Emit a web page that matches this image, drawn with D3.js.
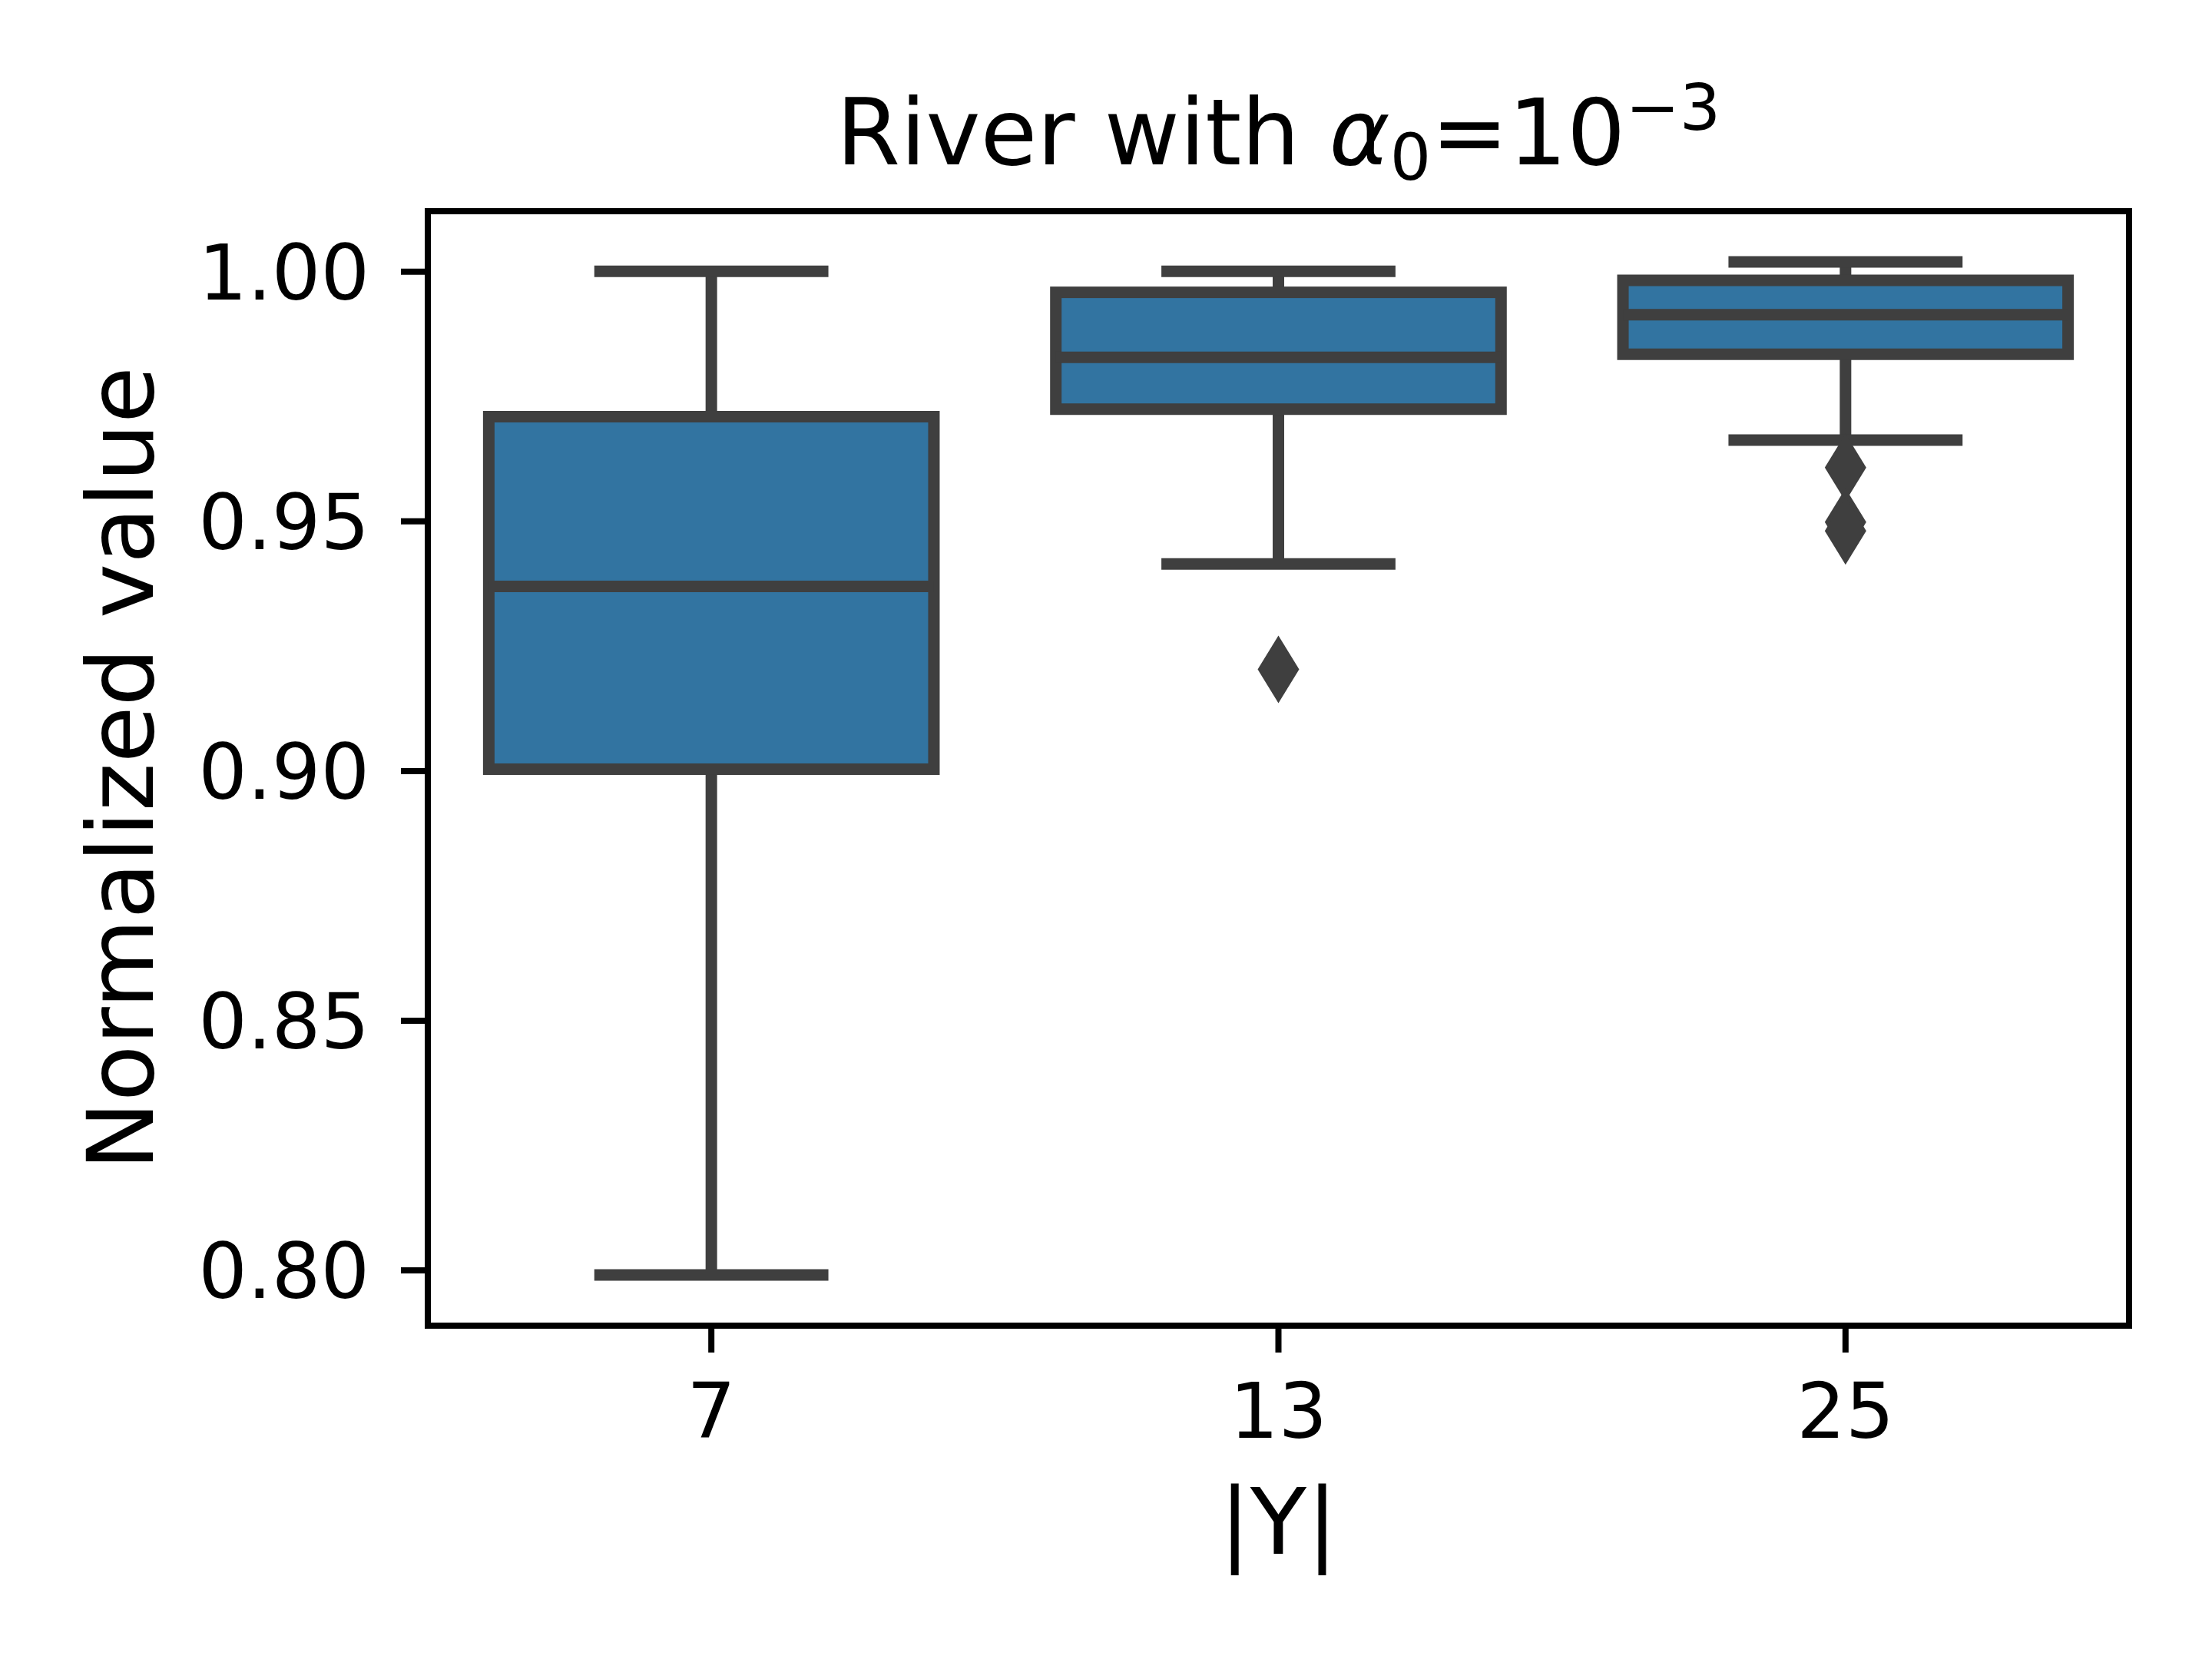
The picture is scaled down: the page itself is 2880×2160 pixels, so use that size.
<!DOCTYPE html>
<html>
<head>
<meta charset="utf-8">
<script src="https://cdn.jsdelivr.net/npm/d3@7"></script>
<style>
  body { margin: 0; background: #fff; }
  text { font-family: "DejaVu Sans", sans-serif; fill: #000; }
</style>
</head>
<body>
<div id="app"></div>
<script>
// box statistics
const categories = ['7', '13', '25']
const whiskerLow = [0.7990, 0.9414, 0.9662]
const q1 = [0.9003, 0.9724, 0.9834]
const median = [0.9369, 0.9828, 0.9913]
const q3 = [0.9709, 0.9958, 0.9982]
const whiskerHigh = [1.0000, 1.0000, 1.0019]
const outliers = [[], [0.9203], [0.9607, 0.9498, 0.9480]]
const yTicks = [0.80, 0.85, 0.90, 0.95, 1.00]

let data = categories.map((c, i) => {
  return {
    cat: c,
    lo: whiskerLow[i],
    q1: q1[i],
    med: median[i],
    q3: q3[i],
    hi: whiskerHigh[i],
    fliers: outliers[i]
  }
})

var width = 2880,
  height = 2160,
  margin = { top: 275, right: 108, bottom: 434, left: 557 },
  plotW = width - margin.left - margin.right,
  plotH = height - margin.top - margin.bottom

var boxFill = '#3274a1',
  lineColor = '#3f3f3f',
  lw = 15

// y domain like matplotlib: data range + 5% margins
var allVals = data.flatMap(d => [d.lo, d.hi].concat(d.fliers))
var yMin = d3.min(allVals), yMax = d3.max(allVals), pad = (yMax - yMin) * 0.05

var x = d3.scaleBand()
  .domain(categories)
  .range([0, plotW])
  .padding(0)

var y = d3.scaleLinear()
  .domain([yMin - pad, yMax + pad])
  .range([plotH, 0])

var svg = d3.select('#app')
  .append('svg')
  .attr('width', width)
  .attr('height', height)

svg.append('rect')
  .attr('width', width)
  .attr('height', height)
  .attr('fill', '#fff')

var g = svg.append('g')
  .attr('transform', 'translate(' + margin.left + ',' + margin.top + ')')

var boxW = x.bandwidth() * 0.785
var capW = boxW / 2

var box = g.selectAll('.box')
  .data(data)
  .enter()
  .append('g')
  .attr('class', 'box')
  .attr('transform', d => 'translate(' + (x(d.cat) + x.bandwidth() / 2) + ',0)')

// whiskers
box.append('line')
  .attr('x1', 0).attr('x2', 0)
  .attr('y1', d => y(d.q3)).attr('y2', d => y(d.hi))
  .attr('stroke', lineColor).attr('stroke-width', lw)
box.append('line')
  .attr('x1', 0).attr('x2', 0)
  .attr('y1', d => y(d.q1)).attr('y2', d => y(d.lo))
  .attr('stroke', lineColor).attr('stroke-width', lw)

// caps
box.append('line')
  .attr('x1', -capW / 2).attr('x2', capW / 2)
  .attr('y1', d => y(d.hi)).attr('y2', d => y(d.hi))
  .attr('stroke', lineColor).attr('stroke-width', lw)
  .attr('stroke-linecap', 'square')
box.append('line')
  .attr('x1', -capW / 2).attr('x2', capW / 2)
  .attr('y1', d => y(d.lo)).attr('y2', d => y(d.lo))
  .attr('stroke', lineColor).attr('stroke-width', lw)
  .attr('stroke-linecap', 'square')

// box body
box.append('rect')
  .attr('x', -boxW / 2)
  .attr('width', boxW)
  .attr('y', d => y(d.q3))
  .attr('height', d => y(d.q1) - y(d.q3))
  .attr('fill', boxFill)
  .attr('stroke', lineColor)
  .attr('stroke-width', lw)

// median
box.append('line')
  .attr('x1', -boxW / 2).attr('x2', boxW / 2)
  .attr('y1', d => y(d.med)).attr('y2', d => y(d.med))
  .attr('stroke', lineColor).attr('stroke-width', lw)

// fliers as thin diamonds
var diamond = 'M0,-44L27,0L0,44L-27,0Z'
box.selectAll('.flier')
  .data(d => d.fliers)
  .enter()
  .append('path')
  .attr('class', 'flier')
  .attr('d', diamond)
  .attr('transform', v => 'translate(0,' + y(v) + ')')
  .attr('fill', lineColor)

// axes
var yAxis = g.append('g')
  .call(d3.axisLeft(y).tickValues(yTicks).tickFormat(d3.format('.2f')).tickSize(35).tickPadding(41))
var xAxis = g.append('g')
  .attr('transform', 'translate(0,' + plotH + ')')
  .call(d3.axisBottom(x).tickSize(35).tickPadding(40))

;[yAxis, xAxis].forEach(a => {
  a.select('.domain').remove()
  a.selectAll('.tick line').attr('stroke', '#000').attr('stroke-width', 8)
  a.selectAll('.tick text')
    .attr('font-size', 100)
    .attr('font-family', '"DejaVu Sans", sans-serif')
    .attr('fill', '#000')
})
yAxis.selectAll('.tick text').attr('dy', '0.36em')

// frame
g.append('rect')
  .attr('width', plotW)
  .attr('height', plotH)
  .attr('fill', 'none')
  .attr('stroke', '#000')
  .attr('stroke-width', 8)

// labels
g.append('text')
  .attr('transform', 'translate(' + (199 - margin.left) + ',' + plotH / 2 + ') rotate(-90)')
  .attr('text-anchor', 'middle')
  .attr('font-size', 120)
  .text('Normalized value')

g.append('text')
  .attr('x', plotW / 2)
  .attr('y', 2023 - margin.top)
  .attr('text-anchor', 'middle')
  .attr('font-size', 120)
  .text('|Y|')

var title = g.append('text')
  .attr('x', plotW / 2)
  .attr('y', 214 - margin.top)
  .attr('text-anchor', 'middle')
  .attr('font-size', 120)
title.append('tspan').text('River with ')
title.append('tspan').attr('font-style', 'italic').text('α')
title.append('tspan').attr('font-size', 84).attr('dy', 20).text('0')
title.append('tspan').attr('dy', -20).text('=10')
title.append('tspan').attr('font-size', 84).attr('dy', -45).text('−3')
</script>
</body>
</html>
